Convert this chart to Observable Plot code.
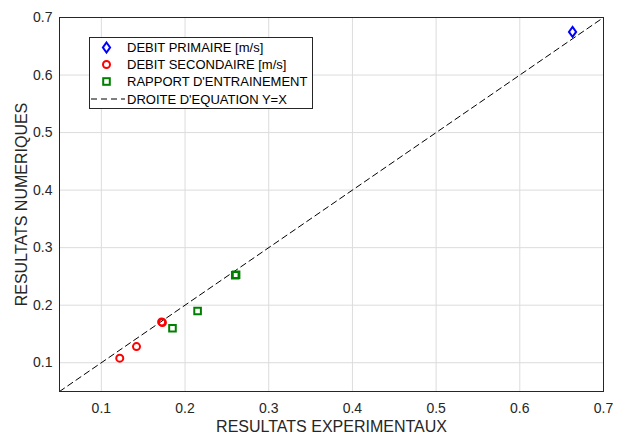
<!DOCTYPE html>
<html><head><meta charset="utf-8">
<script src="https://cdn.jsdelivr.net/npm/d3@7"></script>
<script src="https://cdn.jsdelivr.net/npm/@observablehq/plot@0.6"></script>
<style>
body{margin:0;background:#fff;font-family:"Liberation Sans",Arial,sans-serif;}
#wrap{position:relative;width:621px;height:435px;}
#legend{position:absolute;left:0;top:0;}
g[aria-label="x-axis label"] text, g[aria-label="y-axis label"] text{font-size:16px;}
</style></head><body><div id="wrap"></div>
<script>
// Data
const primaireX = [0.663];
const primaireY = [0.675];
const secondaireX = [0.122, 0.142, 0.173, 0.172];
const secondaireY = [0.108, 0.128, 0.170, 0.171];
const rapportX = [0.185, 0.215, 0.260, 0.261];
const rapportY = [0.160, 0.190, 0.252, 0.253];
const droiteXY = [0.05, 0.7];
const ticks = [0.1, 0.2, 0.3, 0.4, 0.5, 0.6, 0.7];
const legendLabels = ["DEBIT PRIMAIRE [m/s]", "DEBIT SECONDAIRE [m/s]", "RAPPORT D'ENTRAINEMENT", "DROITE D'EQUATION Y=X"];
const xLabel = "RESULTATS EXPERIMENTAUX";
const yLabel = "RESULTATS NUMERIQUES";

const zip = (xs, ys) => xs.map((x, i) => ({x, y: ys[i]}));
const tallDiamond = {draw(ctx){ ctx.moveTo(0,-5); ctx.lineTo(3.6,0); ctx.lineTo(0,5); ctx.lineTo(-3.6,0); ctx.closePath(); }};
const sq = {draw(ctx){ ctx.rect(-3.3,-3.3,6.6,6.6); }};
const fmt = d => String(+d.toFixed(1));

const plot = Plot.plot({
  width: 621, height: 435,
  marginLeft: 59, marginRight: 18, marginTop: 17, marginBottom: 44,
  style: {fontSize: "14px", fontFamily: "Liberation Sans, Arial, sans-serif", color: "#262626", background: "#fff"},
  x: {domain: [0.05, 0.7], ticks: ticks, label: xLabel},
  y: {domain: [0.05, 0.7], ticks: ticks, label: yLabel},
  marks: [
    Plot.gridX(ticks, {stroke: "#dcdcdc", strokeOpacity: 1}),
    Plot.gridY(ticks, {stroke: "#dcdcdc", strokeOpacity: 1}),
    Plot.axisX(ticks, {tickSize: 0, tickPadding: 12, tickFormat: fmt, label: xLabel, labelAnchor: "center", labelArrow: "none", labelOffset: 40, fill: "#262626"}),
    Plot.axisY(ticks, {tickSize: 0, tickPadding: 7, tickFormat: fmt, label: yLabel, labelAnchor: "center", labelArrow: "none", labelOffset: 44, fill: "#262626"}),
    Plot.line(droiteXY.map(v => ({x: v, y: v})), {x: "x", y: "y", stroke: "#000", strokeWidth: 1, strokeDasharray: "6,4"}),
    Plot.dot(zip(secondaireX, secondaireY), {x: "x", y: "y", r: 3.5, stroke: "#ff0000", strokeWidth: 2, fill: "none"}),
    Plot.dot(zip(rapportX, rapportY), {x: "x", y: "y", symbol: sq, stroke: "#008000", strokeWidth: 2, fill: "none"}),
    Plot.dot(zip(primaireX, primaireY), {x: "x", y: "y", symbol: tallDiamond, stroke: "#0000ff", strokeWidth: 2, fill: "none"}),
    Plot.frame({stroke: "#262626", strokeWidth: 1})
  ]
});
const wrap = document.getElementById("wrap");
wrap.appendChild(plot);

// Legend overlay
const leg = d3.select(wrap).append("svg").attr("id", "legend").attr("width", 621).attr("height", 435)
  .style("font-family", "Liberation Sans, Arial, sans-serif");
leg.append("rect").attr("x", 89.5).attr("y", 37.5).attr("width", 223).attr("height", 71)
  .attr("fill", "#fff").attr("stroke", "#262626").attr("stroke-width", 1);
const rowsY = [47.5, 64.5, 81.5, 99];
const symX = 106.5;
leg.append("path").attr("transform", `translate(${symX},${rowsY[0]})`)
  .attr("d", "M0,-5L3.6,0L0,5L-3.6,0Z").attr("fill", "none").attr("stroke", "#0000ff").attr("stroke-width", 2);
leg.append("circle").attr("cx", symX).attr("cy", rowsY[1]).attr("r", 3.5).attr("fill", "none").attr("stroke", "#ff0000").attr("stroke-width", 2);
leg.append("rect").attr("x", symX-3.3).attr("y", rowsY[2]-3.3).attr("width", 6.6).attr("height", 6.6).attr("fill", "none").attr("stroke", "#008000").attr("stroke-width", 2);
leg.append("line").attr("x1", 91).attr("x2", 125).attr("y1", rowsY[3]).attr("y2", rowsY[3]).attr("stroke", "#000").attr("stroke-dasharray", "6,4");
legendLabels.forEach((t, i) => {
  leg.append("text").attr("x", 127).attr("y", rowsY[i]).attr("dy", "0.35em").attr("font-size", 13).attr("fill", "#000").text(t);
});
</script></body></html>
